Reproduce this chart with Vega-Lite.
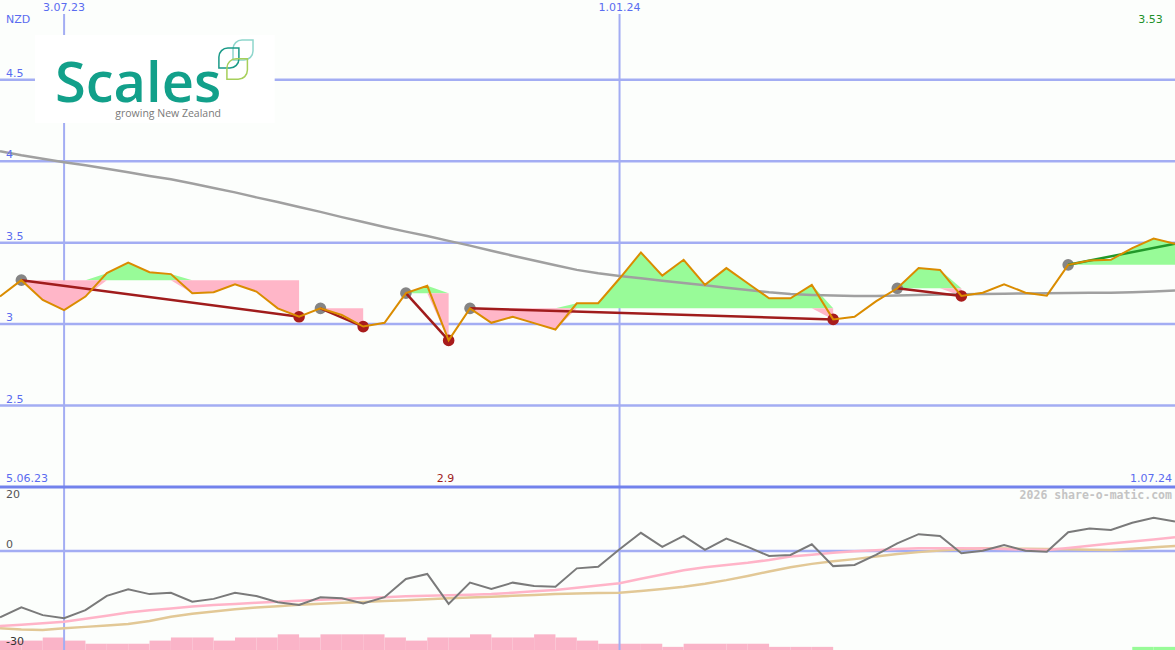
{
  "$schema": "https://vega.github.io/schema/vega-lite/v6.json",
  "padding": 0,
  "background": "#fcfefc",
  "spacing": 0,
  "bounds": "flush",
  "resolve": {"scale": {"color": "independent", "stroke": "independent"}},
  "config": {"view": {"stroke": null}, "font": "DejaVu Sans"},
  "datasets": {
    "w": [
      {"d":"2023-06-12","p":3.17,"ma":4.062,"o":-23.7,"pk":-26.8,"tn":-27.6},
      {"d":"2023-06-19","p":3.27,"ma":4.037,"o":-20.1,"pk":-26.3,"tn":-28.0},
      {"d":"2023-06-26","p":3.148,"ma":4.015,"o":-22.9,"pk":-25.8,"tn":-28.2},
      {"d":"2023-07-03","p":3.086,"ma":3.994,"o":-24.0,"pk":-25.3,"tn":-27.6},
      {"d":"2023-07-10","p":3.169,"ma":3.975,"o":-21.1,"pk":-24.2,"tn":-27.1},
      {"d":"2023-07-17","p":3.313,"ma":3.954,"o":-16.0,"pk":-23.1,"tn":-26.6},
      {"d":"2023-07-24","p":3.378,"ma":3.932,"o":-13.7,"pk":-22.0,"tn":-26.1},
      {"d":"2023-07-31","p":3.319,"ma":3.910,"o":-15.4,"pk":-21.2,"tn":-25.0},
      {"d":"2023-08-07","p":3.307,"ma":3.889,"o":-14.9,"pk":-20.5,"tn":-23.5},
      {"d":"2023-08-14","p":3.19,"ma":3.864,"o":-18.1,"pk":-19.8,"tn":-22.4},
      {"d":"2023-08-21","p":3.196,"ma":3.836,"o":-17.1,"pk":-19.3,"tn":-21.6},
      {"d":"2023-08-28","p":3.245,"ma":3.809,"o":-14.9,"pk":-18.9,"tn":-20.8},
      {"d":"2023-09-04","p":3.20,"ma":3.778,"o":-16.1,"pk":-18.5,"tn":-20.2},
      {"d":"2023-09-11","p":3.097,"ma":3.750,"o":-18.3,"pk":-18.1,"tn":-19.7},
      {"d":"2023-09-18","p":3.045,"ma":3.719,"o":-19.3,"pk":-17.8,"tn":-19.2},
      {"d":"2023-09-25","p":3.097,"ma":3.689,"o":-16.5,"pk":-17.4,"tn":-18.8},
      {"d":"2023-10-02","p":3.056,"ma":3.657,"o":-16.9,"pk":-17.1,"tn":-18.5},
      {"d":"2023-10-09","p":2.985,"ma":3.627,"o":-18.7,"pk":-16.8,"tn":-18.2},
      {"d":"2023-10-16","p":3.008,"ma":3.596,"o":-16.5,"pk":-16.5,"tn":-17.9},
      {"d":"2023-10-23","p":3.19,"ma":3.568,"o":-10.0,"pk":-16.2,"tn":-17.6},
      {"d":"2023-10-30","p":3.235,"ma":3.541,"o":-8.2,"pk":-16.0,"tn":-17.2},
      {"d":"2023-11-06","p":2.90,"ma":3.511,"o":-18.9,"pk":-15.8,"tn":-16.9},
      {"d":"2023-11-13","p":3.097,"ma":3.482,"o":-11.3,"pk":-15.6,"tn":-16.6},
      {"d":"2023-11-20","p":3.008,"ma":3.451,"o":-13.6,"pk":-15.4,"tn":-16.3},
      {"d":"2023-11-27","p":3.045,"ma":3.420,"o":-11.3,"pk":-14.9,"tn":-16.0},
      {"d":"2023-12-04","p":3.006,"ma":3.391,"o":-12.5,"pk":-14.4,"tn":-15.7},
      {"d":"2023-12-11","p":2.967,"ma":3.362,"o":-12.8,"pk":-13.9,"tn":-15.4},
      {"d":"2023-12-18","p":3.128,"ma":3.333,"o":-6.2,"pk":-13.1,"tn":-15.2},
      {"d":"2023-12-25","p":3.128,"ma":3.312,"o":-5.6,"pk":-12.3,"tn":-15.0},
      {"d":"2024-01-01","p":3.28,"ma":3.296,"o":0.6,"pk":-11.5,"tn":-14.9},
      {"d":"2024-01-08","p":3.44,"ma":3.282,"o":6.5,"pk":-9.9,"tn":-14.3},
      {"d":"2024-01-15","p":3.298,"ma":3.267,"o":1.5,"pk":-8.4,"tn":-13.6},
      {"d":"2024-01-22","p":3.395,"ma":3.253,"o":5.4,"pk":-6.9,"tn":-12.8},
      {"d":"2024-01-29","p":3.241,"ma":3.239,"o":0.4,"pk":-5.8,"tn":-11.7},
      {"d":"2024-02-05","p":3.344,"ma":3.224,"o":4.4,"pk":-5.0,"tn":-10.4},
      {"d":"2024-02-12","p":3.251,"ma":3.210,"o":1.5,"pk":-4.2,"tn":-8.9},
      {"d":"2024-02-19","p":3.159,"ma":3.196,"o":-1.8,"pk":-3.2,"tn":-7.3},
      {"d":"2024-02-26","p":3.159,"ma":3.185,"o":-1.4,"pk":-2.0,"tn":-5.8},
      {"d":"2024-03-04","p":3.241,"ma":3.179,"o":2.4,"pk":-1.3,"tn":-4.6},
      {"d":"2024-03-11","p":3.029,"ma":3.175,"o":-5.4,"pk":-0.6,"tn":-3.7},
      {"d":"2024-03-18","p":3.045,"ma":3.173,"o":-5.0,"pk":-0.1,"tn":-2.9},
      {"d":"2024-03-25","p":3.14,"ma":3.173,"o":-1.4,"pk":0.3,"tn":-2.0},
      {"d":"2024-04-01","p":3.22,"ma":3.176,"o":2.75,"pk":0.7,"tn":-1.1},
      {"d":"2024-04-08","p":3.344,"ma":3.179,"o":6.0,"pk":0.95,"tn":-0.4},
      {"d":"2024-04-15","p":3.333,"ma":3.182,"o":5.4,"pk":0.95,"tn":0.2},
      {"d":"2024-04-22","p":3.173,"ma":3.184,"o":-0.8,"pk":0.95,"tn":0.6},
      {"d":"2024-04-29","p":3.193,"ma":3.185,"o":0.1,"pk":0.9,"tn":0.95},
      {"d":"2024-05-06","p":3.245,"ma":3.187,"o":2.1,"pk":0.7,"tn":0.9},
      {"d":"2024-05-13","p":3.193,"ma":3.188,"o":0.1,"pk":0.5,"tn":0.8},
      {"d":"2024-05-20","p":3.175,"ma":3.189,"o":-0.25,"pk":0.4,"tn":0.7},
      {"d":"2024-05-27","p":3.364,"ma":3.191,"o":6.7,"pk":1.1,"tn":0.6},
      {"d":"2024-06-03","p":3.391,"ma":3.192,"o":8.0,"pk":1.9,"tn":0.45},
      {"d":"2024-06-10","p":3.395,"ma":3.193,"o":7.5,"pk":2.7,"tn":0.36},
      {"d":"2024-06-17","p":3.467,"ma":3.196,"o":10.1,"pk":3.4,"tn":0.8},
      {"d":"2024-06-24","p":3.525,"ma":3.201,"o":11.9,"pk":4.1,"tn":1.3},
      {"d":"2024-07-01","p":3.494,"ma":3.206,"o":10.5,"pk":4.9,"tn":1.8}
    ],
    "fill": [
      {"s":"A","d":"2023-06-19","r":3.27,"u":3.27,"n":3.27},
      {"s":"A","d":"2023-06-26","r":3.27,"u":3.27,"n":3.148},
      {"s":"A","d":"2023-07-03","r":3.27,"u":3.27,"n":3.086},
      {"s":"A","d":"2023-07-10","r":3.27,"u":3.27,"n":3.169},
      {"s":"A","d":"2023-07-17","r":3.27,"u":3.313,"n":3.27},
      {"s":"A","d":"2023-07-24","r":3.27,"u":3.378,"n":3.27},
      {"s":"A","d":"2023-07-31","r":3.27,"u":3.319,"n":3.27},
      {"s":"A","d":"2023-08-07","r":3.27,"u":3.307,"n":3.27},
      {"s":"A","d":"2023-08-14","r":3.27,"u":3.27,"n":3.19},
      {"s":"A","d":"2023-08-21","r":3.27,"u":3.27,"n":3.196},
      {"s":"A","d":"2023-08-28","r":3.27,"u":3.27,"n":3.245},
      {"s":"A","d":"2023-09-04","r":3.27,"u":3.27,"n":3.20},
      {"s":"A","d":"2023-09-11","r":3.27,"u":3.27,"n":3.097},
      {"s":"A","d":"2023-09-18","r":3.27,"u":3.27,"n":3.045},
      {"s":"B","d":"2023-09-25","r":3.097,"u":3.097,"n":3.097},
      {"s":"B","d":"2023-10-02","r":3.097,"u":3.097,"n":3.056},
      {"s":"B","d":"2023-10-09","r":3.097,"u":3.097,"n":2.985},
      {"s":"C","d":"2023-10-23","r":3.19,"u":3.19,"n":3.19},
      {"s":"C","d":"2023-10-30","r":3.19,"u":3.235,"n":3.19},
      {"s":"C","d":"2023-11-06","r":3.19,"u":3.19,"n":2.90},
      {"s":"D","d":"2023-11-13","r":3.097,"u":3.097,"n":3.097},
      {"s":"D","d":"2023-11-20","r":3.097,"u":3.097,"n":3.008},
      {"s":"D","d":"2023-11-27","r":3.097,"u":3.097,"n":3.045},
      {"s":"D","d":"2023-12-04","r":3.097,"u":3.097,"n":3.006},
      {"s":"D","d":"2023-12-11","r":3.097,"u":3.097,"n":2.967},
      {"s":"D","d":"2023-12-18","r":3.097,"u":3.128,"n":3.097},
      {"s":"D","d":"2023-12-25","r":3.097,"u":3.128,"n":3.097},
      {"s":"D","d":"2024-01-01","r":3.097,"u":3.28,"n":3.097},
      {"s":"D","d":"2024-01-08","r":3.097,"u":3.44,"n":3.097},
      {"s":"D","d":"2024-01-15","r":3.097,"u":3.298,"n":3.097},
      {"s":"D","d":"2024-01-22","r":3.097,"u":3.395,"n":3.097},
      {"s":"D","d":"2024-01-29","r":3.097,"u":3.241,"n":3.097},
      {"s":"D","d":"2024-02-05","r":3.097,"u":3.344,"n":3.097},
      {"s":"D","d":"2024-02-12","r":3.097,"u":3.251,"n":3.097},
      {"s":"D","d":"2024-02-19","r":3.097,"u":3.159,"n":3.097},
      {"s":"D","d":"2024-02-26","r":3.097,"u":3.159,"n":3.097},
      {"s":"D","d":"2024-03-04","r":3.097,"u":3.241,"n":3.097},
      {"s":"D","d":"2024-03-11","r":3.097,"u":3.097,"n":3.029},
      {"s":"E","d":"2024-04-01","r":3.22,"u":3.22,"n":3.22},
      {"s":"E","d":"2024-04-08","r":3.22,"u":3.344,"n":3.22},
      {"s":"E","d":"2024-04-15","r":3.22,"u":3.333,"n":3.22},
      {"s":"E","d":"2024-04-22","r":3.22,"u":3.22,"n":3.173},
      {"s":"F","d":"2024-05-27","r":3.364,"u":3.364,"n":3.364},
      {"s":"F","d":"2024-06-03","r":3.364,"u":3.391,"n":3.364},
      {"s":"F","d":"2024-06-10","r":3.364,"u":3.395,"n":3.364},
      {"s":"F","d":"2024-06-17","r":3.364,"u":3.467,"n":3.364},
      {"s":"F","d":"2024-06-24","r":3.364,"u":3.525,"n":3.364},
      {"s":"F","d":"2024-07-01","r":3.364,"u":3.494,"n":3.364}
    ],
    "dots": [
      {"d":"2023-06-19","v":3.27,"t":"s"},
      {"d":"2023-09-25","v":3.097,"t":"s"},
      {"d":"2023-10-23","v":3.19,"t":"s"},
      {"d":"2023-11-13","v":3.097,"t":"s"},
      {"d":"2024-04-01","v":3.22,"t":"s"},
      {"d":"2024-05-27","v":3.364,"t":"s"},
      {"d":"2023-09-18","v":3.045,"t":"e"},
      {"d":"2023-10-09","v":2.985,"t":"e"},
      {"d":"2023-11-06","v":2.90,"t":"e"},
      {"d":"2024-03-11","v":3.029,"t":"e"},
      {"d":"2024-04-22","v":3.173,"t":"e"}
    ],
    "trend": [
      {"s":"A","d":"2023-06-19","v":3.27,"c":"dn"},
      {"s":"A","d":"2023-09-18","v":3.045,"c":"dn"},
      {"s":"B","d":"2023-09-25","v":3.097,"c":"dn"},
      {"s":"B","d":"2023-10-09","v":2.985,"c":"dn"},
      {"s":"C","d":"2023-10-23","v":3.19,"c":"dn"},
      {"s":"C","d":"2023-11-06","v":2.90,"c":"dn"},
      {"s":"D","d":"2023-11-13","v":3.097,"c":"dn"},
      {"s":"D","d":"2024-03-11","v":3.029,"c":"dn"},
      {"s":"E","d":"2024-04-01","v":3.22,"c":"dn"},
      {"s":"E","d":"2024-04-22","v":3.173,"c":"dn"},
      {"s":"F","d":"2024-05-27","v":3.364,"c":"up"},
      {"s":"F","d":"2024-07-01","v":3.494,"c":"up"}
    ],
    "vol": [
      {"d":"2023-06-12","e":"2023-06-19","v":3,"c":"p"},
      {"d":"2023-06-19","e":"2023-06-26","v":3,"c":"p"},
      {"d":"2023-06-26","e":"2023-07-03","v":4,"c":"p"},
      {"d":"2023-07-03","e":"2023-07-10","v":3,"c":"p"},
      {"d":"2023-07-10","e":"2023-07-17","v":2,"c":"p"},
      {"d":"2023-07-17","e":"2023-07-24","v":2,"c":"p"},
      {"d":"2023-07-24","e":"2023-07-31","v":2,"c":"p"},
      {"d":"2023-07-31","e":"2023-08-07","v":3,"c":"p"},
      {"d":"2023-08-07","e":"2023-08-14","v":4,"c":"p"},
      {"d":"2023-08-14","e":"2023-08-21","v":4,"c":"p"},
      {"d":"2023-08-21","e":"2023-08-28","v":3,"c":"p"},
      {"d":"2023-08-28","e":"2023-09-04","v":4,"c":"p"},
      {"d":"2023-09-04","e":"2023-09-11","v":4,"c":"p"},
      {"d":"2023-09-11","e":"2023-09-18","v":5,"c":"p"},
      {"d":"2023-09-18","e":"2023-09-25","v":4,"c":"p"},
      {"d":"2023-09-25","e":"2023-10-02","v":5,"c":"p"},
      {"d":"2023-10-02","e":"2023-10-09","v":5,"c":"p"},
      {"d":"2023-10-09","e":"2023-10-16","v":5,"c":"p"},
      {"d":"2023-10-16","e":"2023-10-23","v":4,"c":"p"},
      {"d":"2023-10-23","e":"2023-10-30","v":3,"c":"p"},
      {"d":"2023-10-30","e":"2023-11-06","v":4,"c":"p"},
      {"d":"2023-11-06","e":"2023-11-13","v":4,"c":"p"},
      {"d":"2023-11-13","e":"2023-11-20","v":5,"c":"p"},
      {"d":"2023-11-20","e":"2023-11-27","v":4,"c":"p"},
      {"d":"2023-11-27","e":"2023-12-04","v":4,"c":"p"},
      {"d":"2023-12-04","e":"2023-12-11","v":5,"c":"p"},
      {"d":"2023-12-11","e":"2023-12-18","v":4,"c":"p"},
      {"d":"2023-12-18","e":"2023-12-25","v":3,"c":"p"},
      {"d":"2023-12-25","e":"2024-01-01","v":2,"c":"p"},
      {"d":"2024-01-01","e":"2024-01-08","v":2,"c":"p"},
      {"d":"2024-01-08","e":"2024-01-15","v":2,"c":"p"},
      {"d":"2024-01-15","e":"2024-01-22","v":1,"c":"p"},
      {"d":"2024-01-22","e":"2024-01-29","v":2,"c":"p"},
      {"d":"2024-01-29","e":"2024-02-05","v":2,"c":"p"},
      {"d":"2024-02-05","e":"2024-02-12","v":2,"c":"p"},
      {"d":"2024-02-12","e":"2024-02-19","v":2,"c":"p"},
      {"d":"2024-02-19","e":"2024-02-26","v":1,"c":"p"},
      {"d":"2024-02-26","e":"2024-03-04","v":1,"c":"p"},
      {"d":"2024-03-04","e":"2024-03-11","v":1,"c":"p"},
      {"d":"2024-06-17","e":"2024-06-24","v":1,"c":"g"},
      {"d":"2024-06-24","e":"2024-07-01","v":1,"c":"g"}
    ],
    "vgrid": [{"d":"2023-07-03"},{"d":"2024-01-01"}]
  },
  "vconcat": [
    {
      "width": 1175,
      "height": 487,
      "layer": [
        {
          "data": {"values": [{"v":2.5},{"v":3},{"v":3.5},{"v":4},{"v":4.5}]},
          "mark": {"type": "rule", "color": "#a3adf3", "strokeWidth": 2.5, "clip": true},
          "encoding": {
            "y": {"field": "v", "type": "quantitative", "title": null, "scale": {"domain": [2, 4.99]}, "axis": null}
          }
        },
        {
          "data": {"name": "vgrid"},
          "mark": {"type": "rule", "color": "#a3adf3", "strokeWidth": 2, "clip": true},
          "encoding": {
            "x": {"field": "d", "type": "temporal", "title": null, "scale": {"domain": [{"year":2023,"month":6,"date":12},{"year":2024,"month":7,"date":1}]}, "axis": null}
          }
        },
        {
          "data": {"values": [{}]},
          "mark": {"type": "rule", "color": "#7282ec", "strokeWidth": 3, "clip": true},
          "encoding": {
            "y": {"datum": 2, "type": "quantitative", "title": null, "scale": {"domain": [2, 4.99]}, "axis": null}
          }
        },
        {
          "data": {"name": "fill"},
          "mark": {"type": "area", "color": "#98fb98", "opacity": 1, "clip": true},
          "encoding": {
            "x": {"field": "d", "type": "temporal", "title": null, "scale": {"domain": [{"year":2023,"month":6,"date":12},{"year":2024,"month":7,"date":1}]}, "axis": null},
            "y": {"field": "u", "type": "quantitative", "title": null, "scale": {"domain": [2, 4.99]}, "axis": null},
            "y2": {"field": "r"},
            "detail": {"field": "s"}
          }
        },
        {
          "data": {"name": "fill"},
          "mark": {"type": "area", "color": "#ffb6c8", "opacity": 1, "clip": true},
          "encoding": {
            "x": {"field": "d", "type": "temporal", "title": null, "scale": {"domain": [{"year":2023,"month":6,"date":12},{"year":2024,"month":7,"date":1}]}, "axis": null},
            "y": {"field": "n", "type": "quantitative", "title": null, "scale": {"domain": [2, 4.99]}, "axis": null},
            "y2": {"field": "r"},
            "detail": {"field": "s"}
          }
        },
        {
          "data": {"name": "w"},
          "mark": {"type": "line", "color": "#a0a0a0", "strokeWidth": 2.5, "clip": true},
          "encoding": {
            "x": {"field": "d", "type": "temporal", "title": null, "scale": {"domain": [{"year":2023,"month":6,"date":12},{"year":2024,"month":7,"date":1}]}, "axis": null},
            "y": {"field": "ma", "type": "quantitative", "title": null, "scale": {"domain": [2, 4.99]}, "axis": null}
          }
        },
        {
          "data": {"values": [{}]},
          "mark": {"type": "rect", "color": "#ffffff"},
          "encoding": {
            "x": {"datum": {"year":2023,"month":6,"date":23,"hours":11}, "type": "temporal", "title": null, "scale": {"domain": [{"year":2023,"month":6,"date":12},{"year":2024,"month":7,"date":1}]}, "axis": null},
            "x2": {"datum": {"year":2023,"month":9,"date":10}},
            "y": {"datum": 4.775, "type": "quantitative", "title": null, "scale": {"domain": [2, 4.99]}, "axis": null},
            "y2": {"datum": 4.235}
          }
        },
        {
          "data": {"values": [{}]},
          "mark": {"type": "rect", "color": "#fcfefc"},
          "encoding": {
            "x": {"datum": {"year":2023,"month":6,"date":12}, "type": "temporal", "title": null, "scale": {"domain": [{"year":2023,"month":6,"date":12},{"year":2024,"month":7,"date":1}]}, "axis": null},
            "x2": {"datum": {"year":2024,"month":7,"date":1}},
            "y": {"datum": 4.99, "type": "quantitative", "title": null, "scale": {"domain": [2, 4.99]}, "axis": null},
            "y2": {"datum": 4.904}
          }
        },
        {
          "data": {"values": [{"v":2.5},{"v":3},{"v":3.5},{"v":4},{"v":4.5}]},
          "mark": {"type": "text", "fontSize": 11, "color": "#5a6cf0", "align": "left", "baseline": "bottom", "dy": -1},
          "encoding": {
            "x": {"datum": {"year":2023,"month":6,"date":14}, "type": "temporal", "title": null, "scale": {"domain": [{"year":2023,"month":6,"date":12},{"year":2024,"month":7,"date":1}]}, "axis": null},
            "y": {"field": "v", "type": "quantitative", "title": null, "scale": {"domain": [2, 4.99]}, "axis": null},
            "text": {"field": "v", "type": "quantitative", "format": "~g"}
          }
        },
        {
          "data": {"values": [{}]},
          "mark": {"type": "text", "text": "Scales", "font": "Open Sans", "fontWeight": 600, "fontSize": 56, "color": "#12a08a", "align": "left", "baseline": "alphabetic"},
          "encoding": {
            "x": {"datum": {"year":2023,"month":6,"date":30}, "type": "temporal", "title": null, "scale": {"domain": [{"year":2023,"month":6,"date":12},{"year":2024,"month":7,"date":1}]}, "axis": null},
            "y": {"datum": 4.3636, "type": "quantitative", "title": null, "scale": {"domain": [2, 4.99]}, "axis": null}
          }
        },
        {
          "data": {"values": [{}]},
          "mark": {"type": "text", "text": "growing New Zealand", "font": "Open Sans", "fontSize": 10.5, "color": "#7a7a7a", "align": "right", "baseline": "alphabetic"},
          "encoding": {
            "x": {"datum": {"year":2023,"month":8,"date":23,"hours":10}, "type": "temporal", "title": null, "scale": {"domain": [{"year":2023,"month":6,"date":12},{"year":2024,"month":7,"date":1}]}, "axis": null},
            "y": {"datum": 4.272, "type": "quantitative", "title": null, "scale": {"domain": [2, 4.99]}, "axis": null}
          }
        },
        {
          "data": {"values": [{}]},
          "mark": {"type": "point", "shape": "M-1,1 L-1,-0.1 C-1,-0.6 -0.6,-1 -0.1,-1 L1,-1 L1,0.1 C1,0.6 0.6,1 0.1,1 Z", "size": 400, "filled": false, "strokeWidth": 1.5, "color": "#8fd6cc", "opacity": 1},
          "encoding": {
            "x": {"datum": {"year":2023,"month":8,"date":30,"hours":15}, "type": "temporal", "title": null, "scale": {"domain": [{"year":2023,"month":6,"date":12},{"year":2024,"month":7,"date":1}]}, "axis": null},
            "y": {"datum": 4.683, "type": "quantitative", "title": null, "scale": {"domain": [2, 4.99]}, "axis": null}
          }
        },
        {
          "data": {"values": [{}]},
          "mark": {"type": "point", "shape": "M-1,1 L-1,-0.1 C-1,-0.6 -0.6,-1 -0.1,-1 L1,-1 L1,0.1 C1,0.6 0.6,1 0.1,1 Z", "size": 400, "filled": false, "strokeWidth": 1.5, "color": "#1a9a88", "opacity": 1},
          "encoding": {
            "x": {"datum": {"year":2023,"month":8,"date":26}, "type": "temporal", "title": null, "scale": {"domain": [{"year":2023,"month":6,"date":12},{"year":2024,"month":7,"date":1}]}, "axis": null},
            "y": {"datum": 4.634, "type": "quantitative", "title": null, "scale": {"domain": [2, 4.99]}, "axis": null}
          }
        },
        {
          "data": {"values": [{}]},
          "mark": {"type": "point", "shape": "M-1,1 L-1,-0.1 C-1,-0.6 -0.6,-1 -0.1,-1 L1,-1 L1,0.1 C1,0.6 0.6,1 0.1,1 Z", "size": 420, "filled": false, "strokeWidth": 1.5, "color": "#a6cf5a", "opacity": 1},
          "encoding": {
            "x": {"datum": {"year":2023,"month":8,"date":28,"hours":17}, "type": "temporal", "title": null, "scale": {"domain": [{"year":2023,"month":6,"date":12},{"year":2024,"month":7,"date":1}]}, "axis": null},
            "y": {"datum": 4.566, "type": "quantitative", "title": null, "scale": {"domain": [2, 4.99]}, "axis": null}
          }
        },
        {
          "data": {"name": "dots"},
          "mark": {"type": "point", "filled": true, "size": 135, "opacity": 1},
          "encoding": {
            "x": {"field": "d", "type": "temporal", "title": null, "scale": {"domain": [{"year":2023,"month":6,"date":12},{"year":2024,"month":7,"date":1}]}, "axis": null},
            "y": {"field": "v", "type": "quantitative", "title": null, "scale": {"domain": [2, 4.99]}, "axis": null},
            "color": {"field": "t", "type": "nominal", "scale": {"domain": ["s", "e"], "range": ["#858585", "#a81c1c"]}, "legend": null}
          }
        },
        {
          "data": {"name": "trend"},
          "mark": {"type": "line", "strokeWidth": 2.5, "clip": true},
          "encoding": {
            "x": {"field": "d", "type": "temporal", "title": null, "scale": {"domain": [{"year":2023,"month":6,"date":12},{"year":2024,"month":7,"date":1}]}, "axis": null},
            "y": {"field": "v", "type": "quantitative", "title": null, "scale": {"domain": [2, 4.99]}, "axis": null},
            "detail": {"field": "s"},
            "stroke": {"field": "c", "type": "nominal", "scale": {"domain": ["dn", "up"], "range": ["#a01c1c", "#22992a"]}, "legend": null}
          }
        },
        {
          "data": {"name": "w"},
          "mark": {"type": "line", "color": "#da8c00", "strokeWidth": 2, "clip": true},
          "encoding": {
            "x": {"field": "d", "type": "temporal", "title": null, "scale": {"domain": [{"year":2023,"month":6,"date":12},{"year":2024,"month":7,"date":1}]}, "axis": null},
            "y": {"field": "p", "type": "quantitative", "title": null, "scale": {"domain": [2, 4.99]}, "axis": null}
          }
        },
        {
          "data": {"values": [{}]},
          "mark": {"type": "text", "text": "3.07.23", "fontSize": 11, "color": "#5a6cf0", "align": "center", "baseline": "middle"},
          "encoding": {
            "x": {"datum": {"year":2023,"month":7,"date":3}, "type": "temporal", "title": null, "scale": {"domain": [{"year":2023,"month":6,"date":12},{"year":2024,"month":7,"date":1}]}, "axis": null},
            "y": {"datum": 4.938, "type": "quantitative", "title": null, "scale": {"domain": [2, 4.99]}, "axis": null}
          }
        },
        {
          "data": {"values": [{}]},
          "mark": {"type": "text", "text": "1.01.24", "fontSize": 11, "color": "#5a6cf0", "align": "center", "baseline": "middle"},
          "encoding": {
            "x": {"datum": {"year":2024,"month":1,"date":1}, "type": "temporal", "title": null, "scale": {"domain": [{"year":2023,"month":6,"date":12},{"year":2024,"month":7,"date":1}]}, "axis": null},
            "y": {"datum": 4.938, "type": "quantitative", "title": null, "scale": {"domain": [2, 4.99]}, "axis": null}
          }
        },
        {
          "data": {"values": [{}]},
          "mark": {"type": "text", "text": "NZD", "fontSize": 11, "color": "#5a6cf0", "align": "left", "baseline": "middle"},
          "encoding": {
            "x": {"datum": {"year":2023,"month":6,"date":14}, "type": "temporal", "title": null, "scale": {"domain": [{"year":2023,"month":6,"date":12},{"year":2024,"month":7,"date":1}]}, "axis": null},
            "y": {"datum": 4.867, "type": "quantitative", "title": null, "scale": {"domain": [2, 4.99]}, "axis": null}
          }
        },
        {
          "data": {"values": [{}]},
          "mark": {"type": "text", "text": "3.53", "fontSize": 11, "color": "#209028", "align": "center", "baseline": "middle"},
          "encoding": {
            "x": {"datum": {"year":2024,"month":6,"date":23}, "type": "temporal", "title": null, "scale": {"domain": [{"year":2023,"month":6,"date":12},{"year":2024,"month":7,"date":1}]}, "axis": null},
            "y": {"datum": 4.867, "type": "quantitative", "title": null, "scale": {"domain": [2, 4.99]}, "axis": null}
          }
        },
        {
          "data": {"values": [{}]},
          "mark": {"type": "text", "text": "5.06.23", "fontSize": 11, "color": "#5a6cf0", "align": "left", "baseline": "middle"},
          "encoding": {
            "x": {"datum": {"year":2023,"month":6,"date":14}, "type": "temporal", "title": null, "scale": {"domain": [{"year":2023,"month":6,"date":12},{"year":2024,"month":7,"date":1}]}, "axis": null},
            "y": {"datum": 2.049, "type": "quantitative", "title": null, "scale": {"domain": [2, 4.99]}, "axis": null}
          }
        },
        {
          "data": {"values": [{}]},
          "mark": {"type": "text", "text": "2.9", "fontSize": 11, "color": "#a01c1c", "align": "center", "baseline": "middle"},
          "encoding": {
            "x": {"datum": {"year":2023,"month":11,"date":5}, "type": "temporal", "title": null, "scale": {"domain": [{"year":2023,"month":6,"date":12},{"year":2024,"month":7,"date":1}]}, "axis": null},
            "y": {"datum": 2.049, "type": "quantitative", "title": null, "scale": {"domain": [2, 4.99]}, "axis": null}
          }
        },
        {
          "data": {"values": [{}]},
          "mark": {"type": "text", "text": "1.07.24", "fontSize": 11, "color": "#5a6cf0", "align": "right", "baseline": "middle"},
          "encoding": {
            "x": {"datum": {"year":2024,"month":6,"date":30}, "type": "temporal", "title": null, "scale": {"domain": [{"year":2023,"month":6,"date":12},{"year":2024,"month":7,"date":1}]}, "axis": null},
            "y": {"datum": 2.049, "type": "quantitative", "title": null, "scale": {"domain": [2, 4.99]}, "axis": null}
          }
        }
      ]
    },
    {
      "width": 1175,
      "height": 163,
      "resolve": {"scale": {"y": "independent"}},
      "layer": [
        {
          "data": {"name": "vol"},
          "mark": {"type": "rect"},
          "encoding": {
            "x": {"field": "d", "type": "temporal", "title": null, "scale": {"domain": [{"year":2023,"month":6,"date":12},{"year":2024,"month":7,"date":1}]}, "axis": null},
            "x2": {"field": "e"},
            "y": {"field": "v", "type": "quantitative", "title": null, "scale": {"domain": [0, 52]}, "axis": null},
            "y2": {"datum": 0},
            "color": {"field": "c", "type": "nominal", "scale": {"domain": ["p", "g"], "range": ["#fab4c8", "#98fb98"]}, "legend": null}
          }
        },
        {
          "data": {"name": "vgrid"},
          "mark": {"type": "rule", "color": "#a3adf3", "strokeWidth": 2, "clip": true},
          "encoding": {
            "x": {"field": "d", "type": "temporal", "title": null, "scale": {"domain": [{"year":2023,"month":6,"date":12},{"year":2024,"month":7,"date":1}]}, "axis": null}
          }
        },
        {
          "data": {"values": [{}]},
          "mark": {"type": "rule", "color": "#a3adf3", "strokeWidth": 2.5, "clip": true},
          "encoding": {
            "y": {"datum": 0, "type": "quantitative", "title": null, "scale": {"domain": [-35.36, 22.86]}, "axis": null}
          }
        },
        {
          "data": {"values": [{}]},
          "mark": {"type": "rule", "color": "#7282ec", "strokeWidth": 3, "clip": true},
          "encoding": {
            "y": {"datum": 22.86, "type": "quantitative", "title": null, "scale": {"domain": [-35.36, 22.86]}, "axis": null}
          }
        },
        {
          "data": {"name": "w"},
          "mark": {"type": "line", "color": "#e2c896", "strokeWidth": 2.5, "clip": true},
          "encoding": {
            "x": {"field": "d", "type": "temporal", "title": null, "scale": {"domain": [{"year":2023,"month":6,"date":12},{"year":2024,"month":7,"date":1}]}, "axis": null},
            "y": {"field": "tn", "type": "quantitative", "title": null, "scale": {"domain": [-35.36, 22.86]}, "axis": null}
          }
        },
        {
          "data": {"name": "w"},
          "mark": {"type": "line", "color": "#ffb4c8", "strokeWidth": 2.5, "clip": true},
          "encoding": {
            "x": {"field": "d", "type": "temporal", "title": null, "scale": {"domain": [{"year":2023,"month":6,"date":12},{"year":2024,"month":7,"date":1}]}, "axis": null},
            "y": {"field": "pk", "type": "quantitative", "title": null, "scale": {"domain": [-35.36, 22.86]}, "axis": null}
          }
        },
        {
          "data": {"name": "w"},
          "mark": {"type": "line", "color": "#7a7a7a", "strokeWidth": 2, "clip": true},
          "encoding": {
            "x": {"field": "d", "type": "temporal", "title": null, "scale": {"domain": [{"year":2023,"month":6,"date":12},{"year":2024,"month":7,"date":1}]}, "axis": null},
            "y": {"field": "o", "type": "quantitative", "title": null, "scale": {"domain": [-35.36, 22.86]}, "axis": null}
          }
        },
        {
          "data": {"values": [{}]},
          "mark": {"type": "text", "text": "20", "fontSize": 11, "color": "#555555", "align": "left", "baseline": "middle"},
          "encoding": {
            "x": {"datum": {"year":2023,"month":6,"date":14}, "type": "temporal", "title": null, "scale": {"domain": [{"year":2023,"month":6,"date":12},{"year":2024,"month":7,"date":1}]}, "axis": null},
            "y": {"datum": 20, "type": "quantitative", "title": null, "scale": {"domain": [-35.36, 22.86]}, "axis": null}
          }
        },
        {
          "data": {"values": [{}]},
          "mark": {"type": "text", "text": "0", "fontSize": 11, "color": "#555555", "align": "left", "baseline": "bottom", "dy": -1},
          "encoding": {
            "x": {"datum": {"year":2023,"month":6,"date":14}, "type": "temporal", "title": null, "scale": {"domain": [{"year":2023,"month":6,"date":12},{"year":2024,"month":7,"date":1}]}, "axis": null},
            "y": {"datum": 0, "type": "quantitative", "title": null, "scale": {"domain": [-35.36, 22.86]}, "axis": null}
          }
        },
        {
          "data": {"values": [{}]},
          "mark": {"type": "text", "text": "-30", "fontSize": 11, "color": "#333333", "align": "left", "baseline": "middle"},
          "encoding": {
            "x": {"datum": {"year":2023,"month":6,"date":14}, "type": "temporal", "title": null, "scale": {"domain": [{"year":2023,"month":6,"date":12},{"year":2024,"month":7,"date":1}]}, "axis": null},
            "y": {"datum": -32.5, "type": "quantitative", "title": null, "scale": {"domain": [-35.36, 22.86]}, "axis": null}
          }
        },
        {
          "data": {"values": [{}]},
          "mark": {"type": "text", "text": "2026 share-o-matic.com", "font": "DejaVu Sans Mono", "fontWeight": "bold", "fontSize": 11.5, "color": "#c4c4c4", "align": "right", "baseline": "middle"},
          "encoding": {
            "x": {"datum": {"year":2024,"month":6,"date":30}, "type": "temporal", "title": null, "scale": {"domain": [{"year":2023,"month":6,"date":12},{"year":2024,"month":7,"date":1}]}, "axis": null},
            "y": {"datum": 19.6, "type": "quantitative", "title": null, "scale": {"domain": [-35.36, 22.86]}, "axis": null}
          }
        }
      ]
    }
  ]
}
